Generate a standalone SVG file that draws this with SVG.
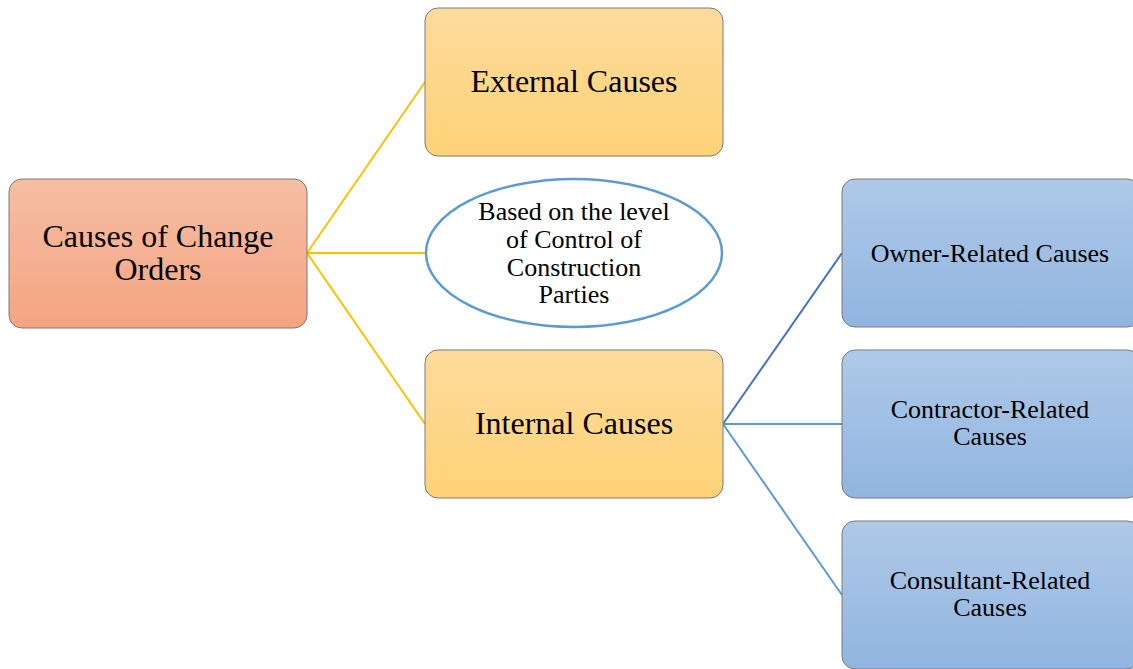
<svg xmlns="http://www.w3.org/2000/svg" width="1133" height="669" viewBox="0 0 1133 669">
<defs>
<linearGradient id="gRed" x1="0" y1="0" x2="0" y2="1"><stop offset="0" stop-color="#f6bea3"/><stop offset="1" stop-color="#f4a482"/></linearGradient>
<linearGradient id="gYel" x1="0" y1="0" x2="0" y2="1"><stop offset="0" stop-color="#fedb9c"/><stop offset="1" stop-color="#fed276"/></linearGradient>
<linearGradient id="gBlue" x1="0" y1="0" x2="0" y2="1"><stop offset="0" stop-color="#afc9e8"/><stop offset="1" stop-color="#90b5e0"/></linearGradient>
</defs>
<style>
.box{stroke:#7a7a7a;stroke-width:1}
.t{font-family:"Liberation Serif","Times New Roman",serif;fill:#000;text-anchor:middle}
.big{font-size:32px}
.mid{font-size:26px}
.y{stroke:#ffc000;stroke-width:2;fill:none}
.b1{stroke:#4472c4;stroke-width:2;fill:none}
.b2{stroke:#5b9bd5;stroke-width:2;fill:none}
</style>
<rect width="1133" height="669" fill="#fff"/>
<g id="connectors">
<line class="y" x1="307" y1="253" x2="425" y2="82"/>
<line class="y" x1="307" y1="253" x2="425" y2="253"/>
<line class="y" x1="307" y1="253" x2="425" y2="424"/>
<line class="b1" x1="723" y1="424" x2="842" y2="253"/>
<line class="b2" x1="723" y1="424" x2="842" y2="424"/>
<line class="b2" x1="723" y1="424" x2="842" y2="595"/>
</g>
<g id="root">
<rect class="box" x="9" y="179" width="298" height="149" rx="13" fill="url(#gRed)"/>
<text class="t big" x="158" y="247">Causes of Change</text>
<text class="t big" x="158" y="280">Orders</text>
</g>
<g id="external">
<rect class="box" x="425" y="8" width="298" height="148" rx="13" fill="url(#gYel)"/>
<text class="t big" x="574" y="92">External Causes</text>
</g>
<g id="basis">
<ellipse cx="574" cy="253" rx="148" ry="74" fill="#fff" stroke="#5b9bd5" stroke-width="2.5"/>
<text class="t mid" x="574" y="220">Based on the level</text>
<text class="t mid" x="574" y="248">of Control of</text>
<text class="t mid" x="574" y="276">Construction</text>
<text class="t mid" x="574" y="303">Parties</text>
</g>
<g id="internal">
<rect class="box" x="425" y="350" width="298" height="148" rx="13" fill="url(#gYel)"/>
<text class="t big" x="574" y="434">Internal Causes</text>
</g>
<g id="owner">
<rect class="box" x="842" y="179" width="298" height="148" rx="13" fill="url(#gBlue)"/>
<text class="t mid" x="990" y="262">Owner-Related Causes</text>
</g>
<g id="contractor">
<rect class="box" x="842" y="350" width="298" height="148" rx="13" fill="url(#gBlue)"/>
<text class="t mid" x="990" y="418">Contractor-Related</text>
<text class="t mid" x="990" y="445">Causes</text>
</g>
<g id="consultant">
<rect class="box" x="842" y="521" width="298" height="148" rx="13" fill="url(#gBlue)"/>
<text class="t mid" x="990" y="589">Consultant-Related</text>
<text class="t mid" x="990" y="616">Causes</text>
</g>
</svg>
